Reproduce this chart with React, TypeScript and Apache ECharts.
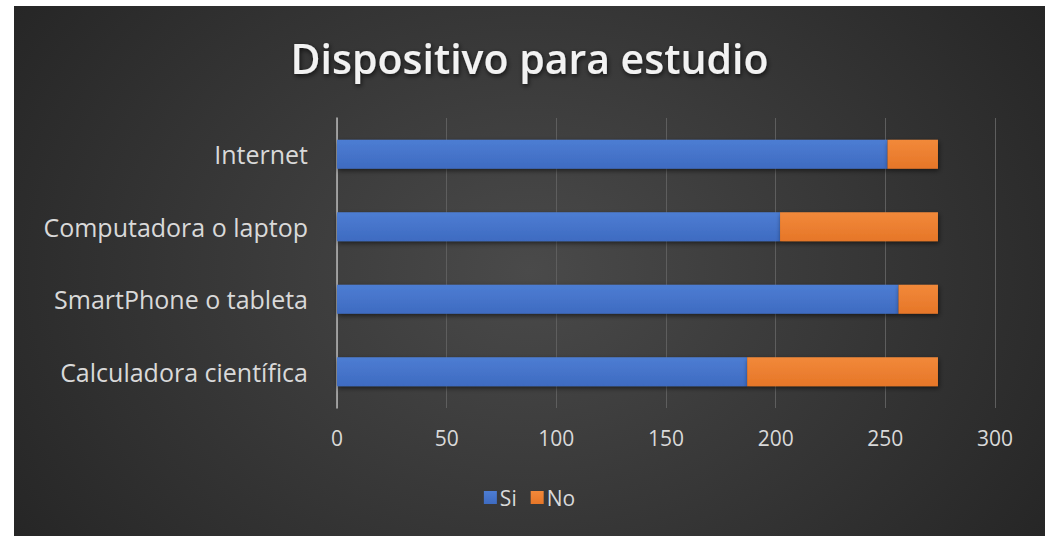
import React, { useEffect, useRef } from "react";
import * as echarts from "echarts";

const titleText = "Dispositivo para estudio";
const categories = ["Internet", "Computadora o laptop", "SmartPhone o tableta", "Calculadora científica"];
const siValues = [251, 202, 256, 187];
const noValues = [23, 72, 18, 87];
const seriesNames = ["Si", "No"];
const xMin = 0;
const xMax = 300;
const xInterval = 50;

export default function App() {
  const ref = useRef<HTMLDivElement>(null);
  useEffect(() => {
    if (!ref.current) return;
    const chart = echarts.init(ref.current, undefined, { renderer: "svg" });
    const font = "'Open Sans', 'Noto Sans', sans-serif";
    const barShadow = {
      shadowBlur: 5,
      shadowColor: "rgba(0,0,0,0.55)",
      shadowOffsetY: 2,
      shadowOffsetX: 1,
    };
    chart.setOption({
      animation: false,
      backgroundColor: "transparent",
      title: {
        text: titleText,
        left: "center",
        top: 26,
        textStyle: {
          color: "#f2f2f2",
          fontFamily: font,
          fontWeight: 600,
          fontSize: 41,
          textShadowColor: "rgba(0,0,0,0.7)",
          textShadowBlur: 5,
          textShadowOffsetX: 1,
          textShadowOffsetY: 2,
        },
      },
      legend: {
        data: seriesNames,
        bottom: 23,
        left: "center",
        icon: "rect",
        itemWidth: 13,
        itemHeight: 13,
        itemGap: 14,
        textStyle: { color: "#d9d9d9", fontFamily: font, fontSize: 21, padding: [0, 0, 0, -2] },
      },
      grid: { left: 323, right: 50, top: 112, bottom: 128, containLabel: false },
      xAxis: {
        type: "value",
        min: xMin,
        max: xMax,
        interval: xInterval,
        axisLine: { show: false },
        axisTick: { show: false },
        axisLabel: { color: "#d9d9d9", fontFamily: font, fontSize: 21, margin: 19 },
        splitLine: { show: true, lineStyle: { color: "#5e5e5e", width: 1 } },
      },
      yAxis: {
        type: "category",
        data: categories,
        inverse: true,
        axisLine: { show: true, lineStyle: { color: "#b8b8b8", width: 1.5 } },
        axisTick: { show: false },
        axisLabel: { color: "#d9d9d9", fontFamily: font, fontSize: 25, margin: 29 },
        splitLine: { show: false },
      },
      series: [
        {
          name: seriesNames[0],
          type: "bar",
          stack: "total",
          data: siValues,
          barWidth: "40%",
          itemStyle: {
            color: new echarts.graphic.LinearGradient(0, 0, 0, 1, [
              { offset: 0, color: "#4d7dd3" },
              { offset: 1, color: "#3e6bc1" },
            ]),
            ...barShadow,
          },
        },
        {
          name: seriesNames[1],
          type: "bar",
          stack: "total",
          data: noValues,
          barWidth: "40%",
          itemStyle: {
            color: new echarts.graphic.LinearGradient(0, 0, 0, 1, [
              { offset: 0, color: "#f2893a" },
              { offset: 1, color: "#e67628" },
            ]),
            ...barShadow,
          },
        },
      ],
    });
    return () => chart.dispose();
  }, []);

  return (
    <div style={{ position: "fixed", left: 0, top: 0, width: 1049, height: 536, background: "#ffffff" }}>
      <div
        ref={ref}
        style={{
          position: "absolute",
          left: 14,
          top: 6,
          width: 1031,
          height: 530,
          background: "radial-gradient(ellipse 60% 90% at 50% 50%, #4a4a4a 0%, #262626 100%)",
        }}
      />
    </div>
  );
}
